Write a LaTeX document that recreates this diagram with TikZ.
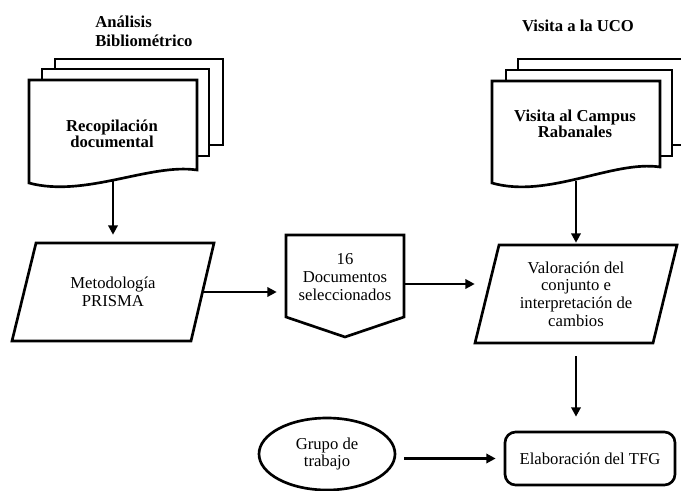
\documentclass[tikz,border=0pt]{standalone}
\usepackage{fontspec}
\setmainfont{Liberation Serif}
\usetikzlibrary{arrows.meta,shapes.geometric}
\begin{document}
\begin{tikzpicture}[x=0.75pt,y=-0.75pt,
  shp/.style={line width=2pt,line join=miter,fill=white},
  arr/.style={line width=2pt,-{Triangle[length=7pt,width=7pt]}},
  txt/.style={font=\fontsize{12.5}{13.2}\selectfont,align=center,inner sep=0pt},
  doctxt/.style={font=\fontsize{12.5}{11.8}\selectfont\bfseries,align=center,inner sep=0pt},
  ttl/.style={font=\fontsize{12.5}{14}\selectfont\bfseries,inner sep=0pt}]
\useasboundingbox (0,0) rectangle (681,491);
% left document stack
\draw[shp] (55,59) rectangle (223,145);
\draw[shp] (42,69) rectangle (209,156);
\draw[shp] (29,80) -- (197,80) -- (197,170) .. controls (150,163) and (85,198) .. (29,183) -- cycle;
% right document stack
\draw[shp] (518,59) rectangle (688,145);
\draw[shp] (506,70) rectangle (672,156);
\draw[shp] (492,81) -- (660,81) -- (660,167) .. controls (613,160) and (548,199) .. (492,183) -- cycle;
% parallelograms and pentagon
\draw[shp] (36,243) -- (214,243) -- (191,341) -- (12,341) -- cycle;
\draw[shp] (499,245) -- (677,245) -- (653,343) -- (475,343) -- cycle;
\draw[shp] (286,235) -- (404,235) -- (404,317) -- (345,337) -- (286,317) -- cycle;
% titles
\node[ttl,anchor=west,align=left] (tA) at (95,31) {Análisis\\Bibliométrico};
\node[ttl] (tB) at (578,26) {Visita a la UCO};
% text nodes
\node[doctxt] (docA) at (112,134) {Recopilación\\documental};
\node[doctxt] (docB) at (575,124) {Visita al Campus\\Rabanales};
\coordinate (docAb) at (113,181);
\coordinate (docBb) at (576,181);
\node[txt,minimum width=135pt,minimum height=73.5pt] (prisma) at (113,292) {Metodología\\PRISMA};
\node[txt,minimum width=88.5pt,minimum height=73.5pt] (pent) at (345,277) {16\\Documentos\\seleccionados};
\node[txt,minimum width=151.5pt,minimum height=73.5pt] (valor) at (576,294) {Valoración del\\conjunto e\\interpretación de\\cambios};
\node[txt,draw,line width=2pt,rounded corners=8pt,minimum width=127.5pt,minimum height=39.75pt] (tfg) at (590,458.5) {Elaboración del TFG};
\node[txt,draw,ellipse,line width=2pt,minimum width=102pt,minimum height=54pt] (grupo) at (327,454) {Grupo de\\trabajo};
% connectors
\draw[arr,shorten >=6pt] (docAb) -- (prisma.north);
\draw[arr,shorten >=6.75pt] (prisma.east) -- (prisma.east -| pent.west);
\draw[arr] ([yshift=-5.25pt]pent.east) -- ([yshift=-5.25pt]pent.east -| valor.west);
\draw[arr,shorten >=1.5pt] (docBb) -- (valor.north);
\draw[arr,shorten <=9.75pt,shorten >=10.5pt] (valor.south) -- (valor.south |- tfg.north);
\draw[arr,shorten <=6pt,shorten >=6pt] (grupo.east |- tfg.west) -- (tfg.west);
\end{tikzpicture}
\end{document}
